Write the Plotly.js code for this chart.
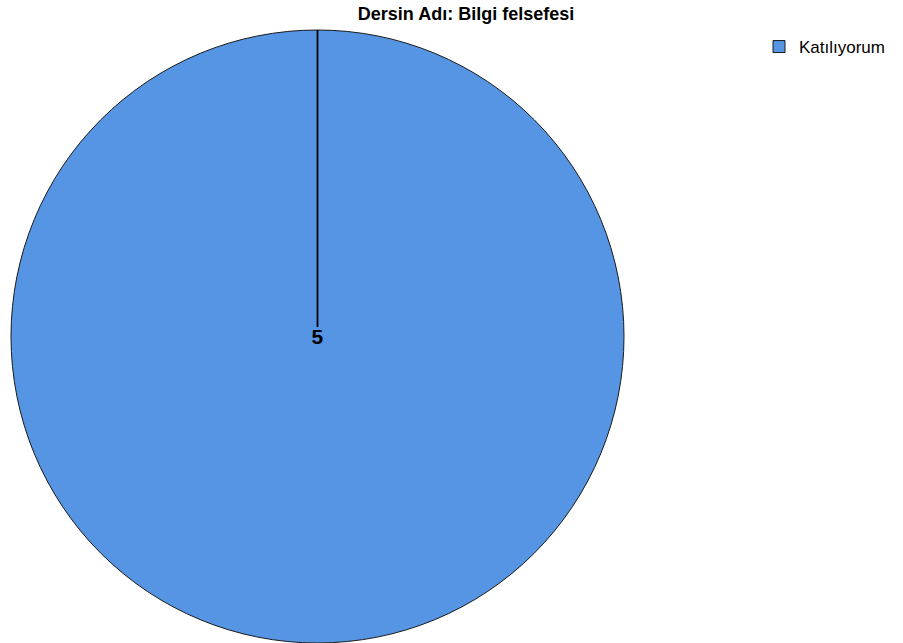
<!DOCTYPE html>
<html>
<head>
<meta charset="utf-8">
<script src="https://cdn.plot.ly/plotly-3.0.1.min.js"></script>
<style>html,body{margin:0;padding:0;background:#fff;}#chart{width:903px;height:643px;}</style>
</head>
<body>
<div id="chart"></div>
<script>
var categories = ["Katılıyorum"];
var values = [5];
var chartTitle = "Dersin Adı: Bilgi felsefesi";
var colors = ["#5595e3"];

var W = 903, H = 643;
var dom = {x: [10 / W, 625 / W], y: [0, 1 - 30 / H]};
var cx = (dom.x[0] + dom.x[1]) / 2;
var topY = dom.y[1];

var data = [{
  type: "pie",
  labels: categories,
  values: values,
  sort: false,
  direction: "clockwise",
  rotation: 0,
  domain: dom,
  marker: {colors: colors, line: {color: "#1a1a1a", width: 1}},
  texttemplate: "<b>%{value}</b>",
  textposition: "inside",
  insidetextorientation: "horizontal",
  textfont: {family: "Liberation Sans, Arial, sans-serif", size: 21, color: "#000"},
  hoverinfo: "label+value"
}];

var layout = {
  width: W, height: H,
  margin: {l: 0, r: 0, t: 0, b: 0},
  paper_bgcolor: "#fff",
  showlegend: true,
  title: {
    text: "<b>" + chartTitle + "</b>",
    font: {family: "Liberation Sans, Arial, sans-serif", size: 18, color: "#000"},
    x: 466 / W, xanchor: "center", xref: "paper",
    y: 1 - 14 / H, yanchor: "middle", yref: "container"
  },
  legend: {
    x: 759 / W, xanchor: "left", y: 1 - 29 / H, yanchor: "top",
    font: {family: "Liberation Sans, Arial, sans-serif", size: 17, color: "#000"},
    bgcolor: "rgba(0,0,0,0)", itemwidth: 30, tracegroupgap: 0
  },
  shapes: [{
    type: "line", xref: "paper", yref: "paper",
    x0: cx, x1: cx, y0: topY, y1: 1 - 327 / H,
    line: {color: "#000", width: 1.8}, layer: "above"
  }]
};

Plotly.newPlot("chart", data, layout, {displayModeBar: false, staticPlot: true});
</script>
</body>
</html>
